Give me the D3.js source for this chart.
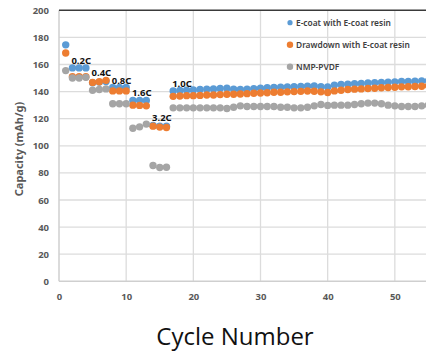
<!DOCTYPE html>
<html>
<head>
<meta charset="utf-8">
<script src="https://cdn.jsdelivr.net/npm/d3@7"></script>
<style>
  html, body { margin: 0; padding: 0; background: #fff; }
  svg { display: block; }
</style>
</head>
<body>
<svg id="chart" width="426" height="354"></svg>
<script>
// Cycle numbers (1..55)
const cycles = d3.range(1, 56);

// Discharge capacity (mAh/g) per cycle for each electrode
const ecoatValues = [
  174.5,
  157.5, 157.5, 157.5,
  146.5, 147, 147.5,
  143, 143, 143,
  133.5, 133.5, 133.5,
  115, 114.5, 114.5,
  140.5, 140.8, 141, 141.2, 141.5, 141.8, 142, 142.3, 142.5, 141.8,
  141.5, 141.8, 142.2, 142.5, 142.8, 143, 143.2, 143.5, 143.6, 143.8,
  144, 144.2, 143.6, 143.4, 144.8, 145.2, 145.5, 145.8, 146, 146.3,
  146.5, 146.8, 147, 147.2, 147.4, 147.5, 147.6, 147.8, 148
];
const drawdownValues = [
  168.5,
  151, 151, 151,
  146.8, 147.3, 148.3,
  140.5, 140.5, 140.5,
  130, 129.8, 129.5,
  114.5, 113.8, 113.5,
  136.5, 136.8, 137, 137, 137.2, 137.5, 137.5, 137.8, 138, 138,
  138.2, 138.5, 138.8, 139, 139.2, 139.5, 139.5, 139.8, 140, 140.2,
  140.4, 140.3, 139.8, 139.3, 140.5, 141, 141.5, 141.8, 142, 142.3,
  142.5, 142.8, 143, 143.2, 143.5, 143.6, 143.8, 144, 144.3
];
const pvdfValues = [
  155.5,
  150, 150, 150.5,
  141, 141.5, 142,
  131, 131, 131,
  113, 114, 116,
  85.5, 84, 84.2,
  128, 128, 128, 128, 128, 128, 128, 128, 127.5, 128.5,
  129.5, 129, 129, 129, 129, 129, 128.5, 128.5, 128, 128,
  128.5, 129.5, 130.5, 129.8, 130, 130, 130, 130.5, 131, 131.5,
  131.5, 131, 130, 129.5, 129, 129, 129, 129.5, 130
];

const seriesNames = ["E-coat with E-coat resin", "Drawdown with E-coat resin", "NMP-PVDF"];
const seriesColors = ["#5b9bd5", "#ed7d31", "#a5a5a5"];

// C-rate step labels and the cycles each step covers
const rateLabels = ["0.2C", "0.4C", "0.8C", "1.6C", "3.2C", "1.0C"];
const rateStartCycles = [2, 5, 8, 11, 14, 17];
const rateEndCycles = [4, 7, 10, 13, 16, 17];

const xTicks = [0, 10, 20, 30, 40, 50];
const yTicks = [0, 20, 40, 60, 80, 100, 120, 140, 160, 180, 200];

const svg = d3.select("#chart");

const x = d3.scaleLinear().domain([0, 60]).range([59, 462]);
const y = d3.scaleLinear().domain([0, 200]).range([281.3, 10.3]);

const plotLeft = x(0), plotTop = y(200), plotBottom = y(0), plotRight = x(60);

// Gridlines
const grid = svg.append("g");
grid.selectAll("line.h").data(yTicks.filter(d => d > 0 && d < 200)).join("line")
  .attr("x1", plotLeft).attr("x2", plotRight)
  .attr("y1", d => y(d)).attr("y2", d => y(d))
  .attr("stroke", "#dcdcdc").attr("stroke-width", 1.3);
grid.selectAll("line.v").data(xTicks.filter(d => d > 0).concat([60])).join("line")
  .attr("x1", d => x(d)).attr("x2", d => x(d))
  .attr("y1", plotTop).attr("y2", plotBottom)
  .attr("stroke", "#dcdcdc").attr("stroke-width", 1.3);

// Axis lines
svg.append("line").attr("x1", plotLeft).attr("x2", plotLeft)
  .attr("y1", plotTop).attr("y2", plotBottom)
  .attr("stroke", "#cfcfcf").attr("stroke-width", 1.5);
svg.append("line").attr("x1", plotLeft).attr("x2", plotRight)
  .attr("y1", plotBottom).attr("y2", plotBottom)
  .attr("stroke", "#cfcfcf").attr("stroke-width", 1.5);
svg.append("line").attr("x1", plotLeft).attr("x2", plotRight)
  .attr("y1", plotTop).attr("y2", plotTop)
  .attr("stroke", "#3a3a3a").attr("stroke-width", 1.4);

// Tick labels via d3 axes
const tickFont = "'Noto Sans', 'DejaVu Sans', sans-serif";
const yAxis = svg.append("g").attr("transform", `translate(${plotLeft},0)`)
  .call(d3.axisLeft(y).tickValues(yTicks).tickSize(0).tickPadding(10));
const xAxis = svg.append("g").attr("transform", `translate(0,${plotBottom})`)
  .call(d3.axisBottom(x).tickValues(xTicks).tickSize(0).tickPadding(12));
[yAxis, xAxis].forEach(g => {
  g.select(".domain").remove();
  g.selectAll("text")
    .attr("fill", "#595959")
    .style("font-family", tickFont)
    .style("font-size", "9.5px")
    .style("font-weight", "700");
});

// Axis titles
svg.append("text")
  .attr("transform", `translate(23,149) rotate(-90)`)
  .attr("text-anchor", "middle")
  .attr("fill", "#595959")
  .style("font-family", tickFont)
  .style("font-size", "11px")
  .style("font-weight", "700")
  .text("Capacity (mAh/g)");

svg.append("text")
  .attr("x", 235).attr("y", 345)
  .attr("text-anchor", "middle")
  .attr("fill", "#111")
  .style("font-family", "'Open Sans', 'Noto Sans', sans-serif")
  .style("font-size", "24px")
  .text("Cycle Number");

// Data points, clipped to the plot area
svg.append("clipPath").attr("id", "plotClip")
  .append("rect").attr("x", plotLeft - 6).attr("y", plotTop - 6)
  .attr("width", plotRight - plotLeft + 12).attr("height", plotBottom - plotTop + 12);

const allSeries = [ecoatValues, drawdownValues, pvdfValues];
const points = svg.append("g").attr("clip-path", "url(#plotClip)");
allSeries.forEach((vals, i) => {
  points.append("g").selectAll("circle")
    .data(cycles.map((c, j) => ({ c, v: vals[j] })))
    .join("circle")
    .attr("cx", d => x(d.c))
    .attr("cy", d => y(d.v))
    .attr("r", 3.7)
    .attr("fill", seriesColors[i]);
});

// C-rate labels above each step
rateLabels.forEach((lab, i) => {
  const idx = d3.range(rateStartCycles[i], rateEndCycles[i] + 1).map(c => c - 1);
  const top = d3.max(idx, j => Math.max(ecoatValues[j], drawdownValues[j], pvdfValues[j]));
  svg.append("text")
    .attr("x", x(rateStartCycles[i]) - 1)
    .attr("y", y(top) - 4)
    .attr("fill", "#111")
    .style("font-family", tickFont)
    .style("font-size", "9.5px")
    .style("font-weight", "700")
    .text(lab);
});

// Legend
const legend = svg.append("g");
seriesNames.forEach((name, i) => {
  const ly = 22.7 + i * 22;
  legend.append("circle").attr("cx", 290).attr("cy", ly).attr("r", i === 0 ? 2.6 : 3.2)
    .attr("fill", seriesColors[i]);
  legend.append("text").attr("x", 296).attr("y", ly + 3)
    .attr("fill", "#404040")
    .style("font-family", tickFont)
    .style("font-size", "8.4px")
    .style("font-weight", "600")
    .text(name);
});
</script>
</body>
</html>
